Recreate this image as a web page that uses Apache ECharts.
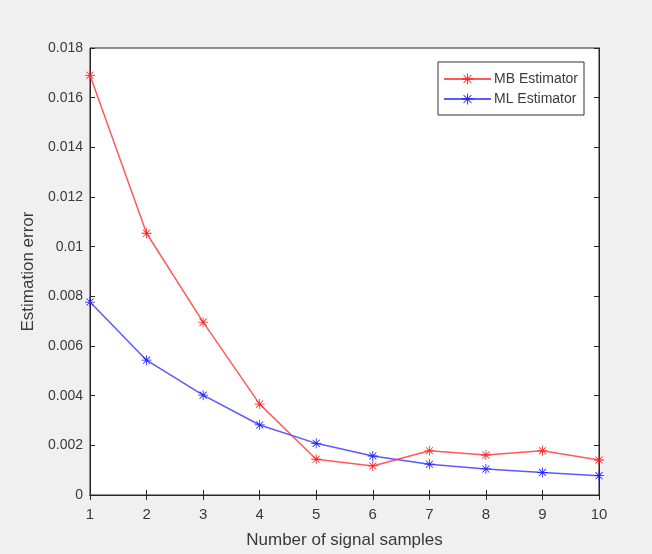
<!DOCTYPE html>
<html>
<head>
<meta charset="utf-8">
<script src="https://cdn.jsdelivr.net/npm/echarts@6/dist/echarts.min.js"></script>
<style>
  html, body { margin: 0; padding: 0; background: #f0f0f0; }
  #chart { width: 652px; height: 554px; }
</style>
</head>
<body>
<div id="chart"></div>
<script>
// Values
const samples = [1, 2, 3, 4, 5, 6, 7, 8, 9, 10];
const mbError = [0.0169, 0.01054, 0.00696, 0.00366, 0.00144, 0.00117, 0.00178, 0.00161, 0.00178, 0.00141];
const mlError = [0.00777, 0.00543, 0.00402, 0.00282, 0.00208, 0.00157, 0.00124, 0.00105, 0.00091, 0.00078];
const seriesNames = ['MB Estimator', 'ML Estimator'];

(function() {
    const chart = echarts.init(document.getElementById('chart'), null, { renderer: 'canvas' });

    // MATLAB-like asterisk marker
    const asterisk = 'path://M-0.8,-10L0.8,-10L0.8,10L-0.8,10Z' +
        'M-10,-0.8L10,-0.8L10,0.8L-10,0.8Z' +
        'M6.5,7.6L7.6,6.5L-6.5,-7.6L-7.6,-6.5Z' +
        'M-6.5,7.6L-7.6,6.5L6.5,-7.6L7.6,-6.5Z';

    const font = 'Liberation Sans';
    const axisColor = '#262626';
    const textColor = '#3a3a3a';
    const fmtY = v => String(parseFloat(v.toFixed(3)));

    const pairs = arr => samples.map((s, i) => [s, arr[i]]);

    const baseX = {
        type: 'value', min: 1, max: 10, interval: 1,
        axisLine: { show: true, lineStyle: { color: axisColor } },
        axisTick: { show: true, inside: true, length: 5, lineStyle: { color: axisColor } },
        splitLine: { show: false }
    };
    const baseY = {
        type: 'value', min: 0, max: 0.018, interval: 0.002,
        axisLine: { show: true, lineStyle: { color: axisColor } },
        axisTick: { show: true, inside: true, length: 5, lineStyle: { color: axisColor } },
        splitLine: { show: false }
    };

    const option = {
        backgroundColor: '#f0f0f0',
        animation: false,
        textStyle: { fontFamily: font },
        grid: {
            left: 90, right: 53, top: 48, bottom: 59,
            show: true, backgroundColor: '#ffffff', borderColor: axisColor, borderWidth: 1
        },
        legend: {
            data: seriesNames,
            orient: 'vertical',
            left: 438, top: 62,
            itemWidth: 47, itemHeight: 14, itemGap: 6,
            padding: [10, 6, 9, 5],
            backgroundColor: '#ffffff',
            borderColor: '#333333', borderWidth: 1, borderRadius: 0,
            textStyle: { fontFamily: font, fontSize: 14, color: textColor, padding: [0, 0, 0, -2] }
        },
        xAxis: [
            Object.assign({}, baseX, {
                position: 'bottom',
                name: 'Number of signal samples',
                nameLocation: 'middle', nameGap: 37,
                nameTextStyle: { fontFamily: font, fontSize: 17, color: textColor },
                axisLabel: { margin: 12, fontFamily: font, fontSize: 15, color: textColor }
            }),
            Object.assign({}, baseX, { position: 'top', axisLabel: { show: false } })
        ],
        yAxis: [
            Object.assign({}, baseY, {
                position: 'left',
                name: 'Estimation error',
                nameLocation: 'middle', nameGap: 50,
                nameTextStyle: { fontFamily: font, fontSize: 17, color: textColor },
                axisLabel: { margin: 7, fontFamily: font, fontSize: 14, color: textColor, formatter: fmtY }
            }),
            Object.assign({}, baseY, { position: 'right', axisLabel: { show: false } })
        ],
        series: [
            {
                name: seriesNames[0], type: 'line',
                data: pairs(mbError),
                symbol: asterisk, symbolSize: 10,
                lineStyle: { color: '#ff5a5a', width: 1.5 },
                itemStyle: { color: '#ff1a1a' }
            },
            {
                name: seriesNames[1], type: 'line',
                data: pairs(mlError),
                symbol: asterisk, symbolSize: 10,
                lineStyle: { color: '#5a5aff', width: 1.5 },
                itemStyle: { color: '#1a1aff' }
            }
        ]
    };

    chart.setOption(option);
})();
</script>
</body>
</html>
